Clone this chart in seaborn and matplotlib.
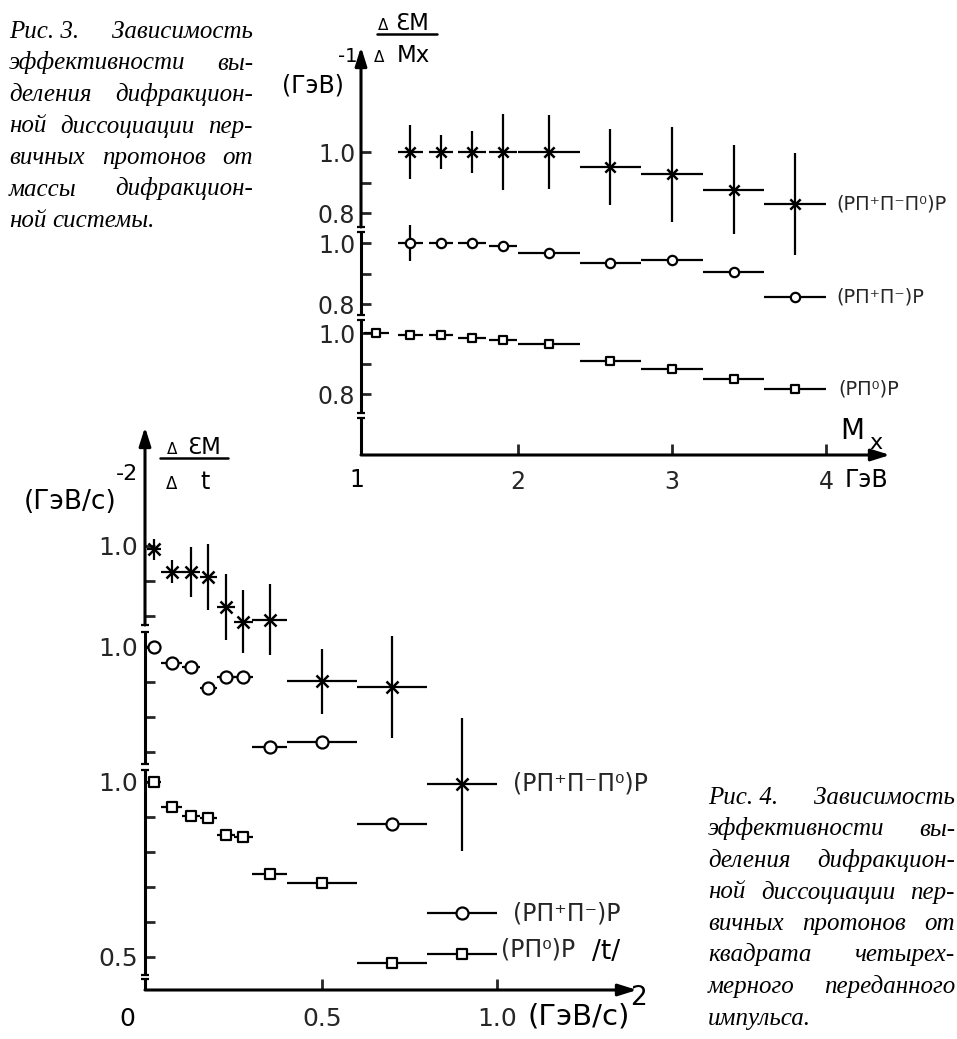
import numpy as np
import pandas as pd
import matplotlib
matplotlib.use("Agg")
import matplotlib.pyplot as plt
import seaborn as sns
from matplotlib.lines import Line2D

sns.set_theme(style="white")
plt.rcParams["font.family"] = ["DejaVu Sans"]

# ---------------- data: Fig. 3  (efficiency vs Mx) ----------------
mx_x = [1.08, 1.3, 1.5, 1.7, 1.9, 2.2, 2.6, 3.0, 3.4, 3.8]
mx_xerr = [0.08, 0.08, 0.08, 0.09, 0.09, 0.2, 0.2, 0.2, 0.2, 0.2]
mx_3pi = [1.0, 1.0, 1.0, 1.0, 1.0, 0.95, 0.927, 0.877, 0.83]          # bins 2..10
mx_3pi_err = [0.09, 0.055, 0.07, 0.125, 0.12, 0.125, 0.155, 0.145, 0.167]
mx_2pi = [1.0, 1.0, 1.0, 0.99, 0.967, 0.933, 0.943, 0.905, 0.823]      # bins 2..10
mx_2pi_err = [0.06, 0, 0, 0, 0, 0, 0, 0, 0]
mx_1pi = [1.0, 0.995, 0.995, 0.985, 0.977, 0.963, 0.907, 0.883, 0.85, 0.816]

# ---------------- data: Fig. 4  (efficiency vs |t|) ----------------
t_x = [0.02, 0.07, 0.125, 0.175, 0.225, 0.275, 0.35, 0.5, 0.7, 0.9]
t_xerr = [0.02, 0.03, 0.025, 0.025, 0.025, 0.028, 0.05, 0.1, 0.1, 0.1]
t_3pi = [0.99, 0.926, 0.926, 0.911, 0.826, 0.783, 0.79, 0.614, 0.597, 0.32]
t_3pi_err = [0.03, 0.033, 0.071, 0.094, 0.094, 0.09, 0.1, 0.093, 0.146, 0.19]
t_2pi = [1.0, 0.955, 0.943, 0.883, 0.914, 0.914, 0.714, 0.729, 0.494, 0.24]
t_1pi = [1.0, 0.929, 0.903, 0.897, 0.849, 0.843, 0.737, 0.711, 0.483, 0.509]

lab_3pi = "(PП\u207aП\u207bП\u2070)P"
lab_2pi = "(PП\u207aП\u207b)P"
lab_1pi = "(PП\u2070)P"

cap3 = ["Рис.\u00a03. Зависимость",
        "эффективности вы-",
        "деления дифракцион-",
        "ной диссоциации пер-",
        "вичных протонов от",
        "массы дифракцион-",
        "ной системы."]
cap4 = ["Рис.\u00a04. Зависимость",
        "эффективности вы-",
        "деления дифракцион-",
        "ной диссоциации пер-",
        "вичных протонов от",
        "квадрата четырех-",
        "мерного переданного",
        "импульса."]

# ---------------- figure ----------------
W, H = 957, 1039
fig = plt.figure(figsize=(W / 100, H / 100), dpi=100)
fig.patch.set_facecolor("white")


def fx(px):
    return px / W


def fy(py):
    return 1 - py / H


def ftext(px, py, s, size, ha="center", va="center", **kw):
    return fig.text(fx(px), fy(py), s, fontsize=size, ha=ha, va=va, color="black", **kw)


LW_AX = 2.2
LW_E = 1.6


def draw_series(ax, x, vals, xerr, yerr, off, k, marker, s, filled):
    x = np.asarray(x, float)
    v = np.asarray(vals, float)
    yy = off + k * (v - 1.0)
    ye = None if yerr is None else k * np.asarray(yerr, float)
    ax.errorbar(x, yy, xerr=xerr, yerr=ye, fmt="none", ecolor="black",
                elinewidth=LW_E, capsize=0, zorder=2, clip_on=False)
    df = pd.DataFrame({"x": x, "y": yy})
    if filled:
        sns.scatterplot(data=df, x="x", y="y", marker=marker, s=s, color="white",
                        edgecolor="black", linewidth=1.6, zorder=3, ax=ax, clip_on=False)
    else:
        sns.scatterplot(data=df, x="x", y="y", marker=marker, s=s, color="black",
                        linewidth=1.8, zorder=3, ax=ax, clip_on=False)
    return x[-1], yy[-1]


def draw_yaxis(ax, x0, segs, dx, top):
    for i, (a, b) in enumerate(segs):
        if b == top:
            ax.annotate("", xy=(x0, b), xytext=(x0, a), annotation_clip=False,
                        arrowprops=dict(arrowstyle="-|>,head_length=0.7,head_width=0.22",
                                        color="black", lw=LW_AX, mutation_scale=16,
                                        shrinkA=0, shrinkB=0))
        else:
            ax.plot([x0, x0], [a, b], color="black", lw=LW_AX, clip_on=False,
                    solid_capstyle="butt")
        for yv in (a, b):
            if yv not in (0, top):
                ax.plot([x0 - dx, x0 + dx], [yv, yv], color="black", lw=1.6,
                        clip_on=False, solid_capstyle="butt")


def style_axes(ax):
    for sp in ax.spines.values():
        sp.set_visible(False)
    ax.set_xlabel("")
    ax.set_ylabel("")
    ax.patch.set_visible(False)
    ax.grid(False)


# =============== Fig. 3 (top) ===============
K1 = 305.0
OFF1 = [303.0, 212.0, 122.0]
ax1 = fig.add_axes([fx(361), fy(455), fx(890) - fx(361), (455 - 47) / H])
X1 = (0.98, 4.415)

lx, ly = draw_series(ax1, mx_x[1:], mx_3pi, mx_xerr[1:], mx_3pi_err, OFF1[0], K1, "x", 55, False)
ax1.text(4.07, ly, lab_3pi, fontsize=14, ha="left", va="center")
lx, ly = draw_series(ax1, mx_x[1:], mx_2pi, mx_xerr[1:], mx_2pi_err, OFF1[1], K1, "o", 45, True)
ax1.text(4.07, ly, lab_2pi, fontsize=14, ha="left", va="center")
lx, ly = draw_series(ax1, mx_x, mx_1pi, mx_xerr, None, OFF1[2], K1, "s", 30, True)
ax1.text(4.08, ly, lab_1pi, fontsize=14, ha="left", va="center")

ax1.set_xlim(*X1)
ax1.set_ylim(0, 408)
style_axes(ax1)

yt, yl = [], []
for off in OFF1:
    for v, l in [(1.0, "1.0"), (0.9, ""), (0.8, "0.8")]:
        yt.append(off + K1 * (v - 1.0))
        yl.append(l)
ax1.set_yticks(yt)
ax1.set_yticklabels(yl)
ax1.set_xticks([2, 3, 4])
ax1.set_xticklabels(["2", "3", "4"])
ax1.tick_params(axis="y", direction="in", length=7, width=2, labelsize=17, pad=4, left=True)
ax1.tick_params(axis="x", direction="in", length=8, width=2, labelsize=17, pad=11, bottom=True)

draw_yaxis(ax1, X1[0], [(228, 408), (140, 223), (42, 135), (0, 37)], 0.028, 408)
ax1.annotate("", xy=(X1[1], 0), xytext=(X1[0], 0), annotation_clip=False,
             arrowprops=dict(arrowstyle="-|>,head_length=0.7,head_width=0.22",
                             color="black", lw=LW_AX, mutation_scale=16,
                             shrinkA=0, shrinkB=0))

ftext(357, 480, "1", 17)
ftext(845, 480, "ГэВ", 17, ha="left")
ftext(852, 431, "M", 20)
ftext(876, 443, "x", 16)
ftext(383, 26, "Δ", 11)
ftext(412, 24, "ƐM", 16.5)
fig.add_artist(Line2D([fx(377), fx(437)], [fy(34), fy(34)], color="black", lw=1.8))
ftext(379, 58, "Δ", 11)
ftext(413, 56, "Mx", 16.5)
ftext(313, 86, "(ГэВ)", 17)
ftext(348, 57, "-1", 14)

# =============== Fig. 4 (bottom) ===============
K2 = 350.0
OFF2 = [444.0, 343.0, 208.0]
ax2 = fig.add_axes([fx(145), fy(990), fx(637) - fx(145), (990 - 427) / H])
X2 = (-0.006, 1.4)

lx, ly = draw_series(ax2, t_x, t_3pi, t_xerr, t_3pi_err, OFF2[0], K2, "x", 75, False)
ax2.text(1.046, ly, lab_3pi, fontsize=17, ha="left", va="center")
lx, ly = draw_series(ax2, t_x, t_2pi, t_xerr, None, OFF2[1], K2, "o", 75, True)
ax2.text(1.046, ly, lab_2pi, fontsize=17, ha="left", va="center")
lx, ly = draw_series(ax2, t_x, t_1pi, t_xerr, None, OFF2[2], K2, "s", 45, True)
ax2.text(1.012, ly + 4, lab_1pi, fontsize=17, ha="left", va="center")

ax2.set_xlim(*X2)
ax2.set_ylim(0, 563)
style_axes(ax2)

yt, yl = [], []
for off, vals in zip(OFF2, [[1.0, 0.9, 0.8], [1.0, 0.9, 0.8, 0.7],
                            [1.0, 0.9, 0.8, 0.7, 0.6, 0.5]]):
    for v in vals:
        yt.append(off + K2 * (v - 1.0))
        yl.append("1.0" if v == 1.0 else ("0.5" if v == 0.5 else ""))
ax2.set_yticks(yt)
ax2.set_yticklabels(yl)
ax2.set_xticks([0.5, 1.0])
ax2.set_xticklabels(["0.5", "1.0"])
ax2.tick_params(axis="y", direction="in", length=7, width=2, labelsize=18, pad=5, left=True)
ax2.tick_params(axis="x", direction="in", length=8, width=2, labelsize=18, pad=12, bottom=True)

draw_yaxis(ax2, X2[0], [(365, 563), (226, 358), (15, 220), (0, 11)], 0.012, 563)
ax2.annotate("", xy=(X2[1], 0), xytext=(X2[0], 0), annotation_clip=False,
             arrowprops=dict(arrowstyle="-|>,head_length=0.7,head_width=0.22",
                             color="black", lw=LW_AX, mutation_scale=16,
                             shrinkA=0, shrinkB=0))

ftext(127, 1019, "0", 18)
unit_t = ftext(527, 1016, "(ГэВ/с)", 21, ha="left")
ftext(606, 952, "/t/", 19)
ftext(172, 449, "Δ", 11)
ftext(204, 447, "ƐM", 16.5)
fig.add_artist(Line2D([fx(160), fx(228)], [fy(458), fy(458)], color="black", lw=1.8))
ftext(172, 484, "Δ", 12)
ftext(205, 482, "t", 17)
ftext(127, 474, "-2", 16)
ftext(70, 502, "(ГэВ/с)", 19)

renderer = fig.canvas.get_renderer()
bb = unit_t.get_window_extent(renderer)
ftext(bb.x1 + 9, 998, "2", 19)


# =============== captions (justified) ===============
def caption(lines, x0, x1, base0, dy, size):
    for i, line in enumerate(lines):
        words = line.split(" ")
        yb = base0 + i * dy
        texts = [fig.text(0, 0, w, fontsize=size, family="Liberation Serif",
                          style="italic", ha="left", va="baseline", color="black")
                 for w in words]
        widths = [t.get_window_extent(renderer).width for t in texts]
        if i < len(lines) - 1 and len(words) > 1:
            gap = (x1 - x0 - sum(widths)) / (len(words) - 1)
        else:
            gap = size * 100 / 72 * 0.25
        x = x0
        for t, w in zip(texts, widths):
            t.set_position((fx(x), fy(yb)))
            x += w + gap


caption(cap3, 9, 253, 38, 31.5, 18)
caption(cap4, 708, 955, 804, 31.5, 18)

fig.savefig("out.png", dpi=100, facecolor="white")
